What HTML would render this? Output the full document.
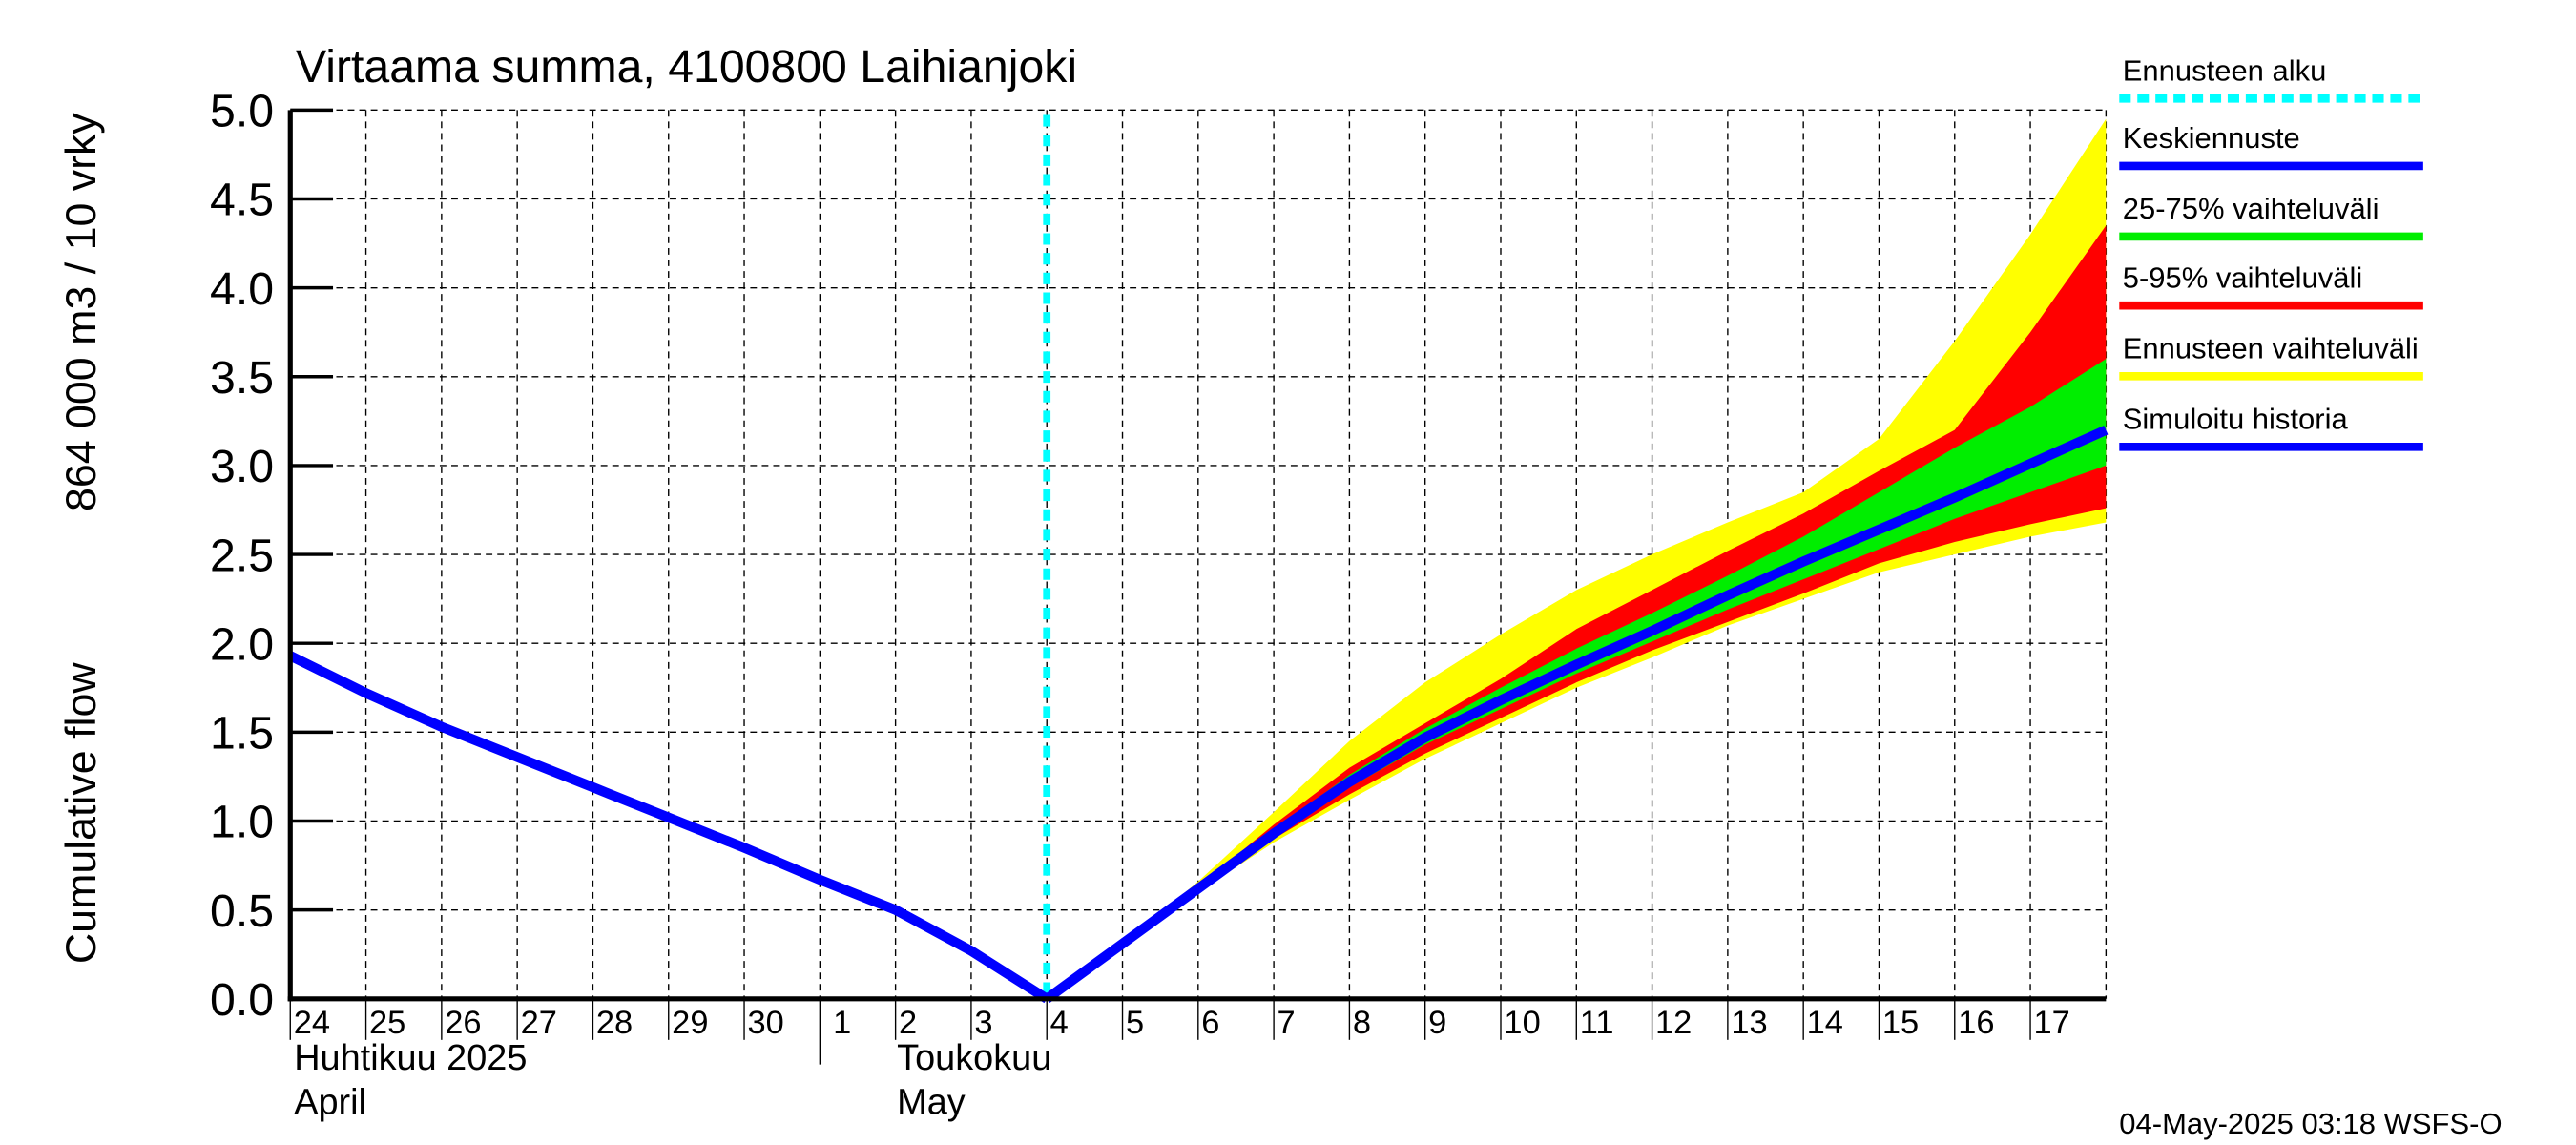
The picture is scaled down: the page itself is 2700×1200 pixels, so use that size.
<!DOCTYPE html>
<html><head><meta charset="utf-8"><style>
html,body{margin:0;padding:0;background:#fff;}
svg{display:block;font-family:"Liberation Sans",sans-serif;}
</style></head><body>
<svg id="chart" width="2700" height="1200" viewBox="0 0 1568 697" preserveAspectRatio="none" xmlns="http://www.w3.org/2000/svg">
<rect width="1568" height="697" fill="#fff"/>
<g id="grid"></g>
<g id="bands"></g>
<g id="lines"></g>
<g id="axes"></g>
<text x="180" y="50" font-size="28">Virtaama summa, 4100800 Laihianjoki</text>
<text transform="translate(58,495) rotate(-90)" text-anchor="middle" font-size="26">Cumulative flow</text>
<text transform="translate(58,190) rotate(-90)" text-anchor="middle" font-size="26">864 000 m3 / 10 vrky</text>
<text x="179" y="651" font-size="22">Huhtikuu  2025</text>
<text x="179" y="678" font-size="22">April</text>
<text x="546" y="651" font-size="22">Toukokuu</text>
<text x="546" y="678" font-size="22">May</text>
<text x="1290" y="690" font-size="18">04-May-2025 03:18 WSFS-O</text>
<g id="legend"></g>
</svg>
<script>
const dayLabels=["24","25","26","27","28","29","30","1","2","3","4","5","6","7","8","9","10","11","12","13","14","15","16","17"];
const yTicks=[0,0.5,1,1.5,2,2.5,3,3.5,4,4.5,5];
const yTickLabels=["0.0","0.5","1.0","1.5","2.0","2.5","3.0","3.5","4.0","4.5","5.0"];
const histDays=[0,1,2,3,4,5,6,7,8,9,10];
const histVals=[1.93,1.72,1.53,1.36,1.19,1.02,0.85,0.67,0.5,0.27,0.0];
const fcDays=[10,11,12,13,14,15,16,17,18,19,20,21,22,23,24];
const meanVals=[0,0.31,0.62,0.93,1.22,1.47,1.68,1.88,2.07,2.27,2.46,2.64,2.82,3.01,3.2];
const yellowTop=[0,0.31,0.66,1.05,1.45,1.78,2.05,2.3,2.5,2.68,2.85,3.15,3.7,4.3,4.95];
const yellowBot=[0,0.3,0.6,0.88,1.12,1.35,1.55,1.75,1.92,2.1,2.25,2.4,2.5,2.6,2.68];
const redTop=[0,0.31,0.63,0.98,1.3,1.55,1.8,2.08,2.3,2.52,2.73,2.97,3.2,3.75,4.35];
const redBot=[0,0.3,0.61,0.9,1.15,1.38,1.58,1.78,1.96,2.12,2.28,2.45,2.57,2.67,2.76];
const greenTop=[0,0.31,0.62,0.95,1.26,1.52,1.75,1.97,2.17,2.38,2.6,2.85,3.1,3.33,3.6];
const greenBot=[0,0.3,0.62,0.92,1.19,1.43,1.63,1.83,2.01,2.19,2.36,2.53,2.7,2.85,3.0];
const forecastStart=10;

const X0=176.7,X1=1281.9,NDAYS=24,Y0=608,YTOP=67,YMAX=5;
const xs=d=>X0+(X1-X0)*d/NDAYS;
const ys=v=>Y0-(Y0-YTOP)*v/YMAX;
const NS="http://www.w3.org/2000/svg";
function mk(tag,attrs,parent){const e=document.createElementNS(NS,tag);for(const k in attrs)e.setAttribute(k,attrs[k]);parent.appendChild(e);return e;}
const grid=document.getElementById('grid'),bands=document.getElementById('bands'),lines=document.getElementById('lines'),axes=document.getElementById('axes'),legend=document.getElementById('legend');

for(let d=1;d<=NDAYS;d++){
  const l=mk('line',{x1:xs(d),x2:xs(d),y1:YTOP,y2:Y0,stroke:'#000','stroke-width':0.8,'stroke-dasharray':'4,3'},grid);
  
  
}
yTicks.forEach(v=>{
  if(v===0)return;
  const l=mk('line',{x1:X0,x2:X1,y1:ys(v),y2:ys(v),stroke:'#000','stroke-width':0.8,'stroke-dasharray':'4,3'},grid);
  
  
});

function band(top,bot,color,name){
  let p=fcDays.map((d,i)=>xs(d)+','+ys(top[i])).join(' ');
  p+=' '+fcDays.slice().reverse().map((d,j)=>{const i=fcDays.length-1-j;return xs(d)+','+ys(bot[i]);}).join(' ');
  const e=mk('polygon',{points:p,fill:color},bands);
  
  
}
band(yellowTop,yellowBot,'#ffff00','band-forecast-range');
band(redTop,redBot,'#ff0000','band-5-95');
band(greenTop,greenBot,'#00ee00','band-25-75');

const fl=mk('line',{x1:xs(forecastStart),x2:xs(forecastStart),y1:YTOP+3,y2:Y0,stroke:'#00ffff','stroke-width':4.5,'stroke-dasharray':'7,5'},lines);



const h=mk('polyline',{points:histDays.map((d,i)=>xs(d)+','+ys(histVals[i])).join(' '),fill:'none',stroke:'#0000ff','stroke-width':6,'stroke-linejoin':'round'},lines);


const m=mk('polyline',{points:fcDays.map((d,i)=>xs(d)+','+ys(meanVals[i])).join(' '),fill:'none',stroke:'#0000ff','stroke-width':6,'stroke-linejoin':'round'},lines);



const ax1=mk('line',{x1:X0,x2:X0,y1:YTOP,y2:Y0+1.5,stroke:'#000','stroke-width':3},axes);


const ax2=mk('line',{x1:X0-1.5,x2:X1,y1:Y0,y2:Y0,stroke:'#000','stroke-width':3},axes);


yTicks.forEach((v,i)=>{
  const t=mk('line',{x1:X0,x2:X0+26,y1:ys(v),y2:ys(v),stroke:'#000','stroke-width':2},axes);
  
  
  const tx=mk('text',{x:X0-10,y:ys(v)+10,'text-anchor':'end','font-size':28},axes);
  tx.textContent=yTickLabels[i];
  
  
});
dayLabels.forEach((lab,d)=>{
  const isMonth=(lab==="1");
  const t=mk('line',{x1:xs(d),x2:xs(d),y1:Y0,y2:isMonth?648:633,stroke:'#000','stroke-width':0.8},axes);
  
  
  const tx=mk('text',{x:xs(d)+(isMonth?8:2),y:629,'font-size':20},axes);
  tx.textContent=lab;
  
  
});

const legItems=[
 ["Ennusteen alku","#00ffff",true,60],
 ["Keskiennuste","#0000ff",false,101],
 ["25-75% vaihteluväli","#00ee00",false,144],
 ["5-95% vaihteluväli","#ff0000",false,186],
 ["Ennusteen vaihteluväli","#ffff00",false,229],
 ["Simuloitu historia","#0000ff",false,272]
];
legItems.forEach(it=>{
  const tx=mk('text',{x:1292,y:it[3]-11,'font-size':18},legend);
  tx.textContent=it[0];
  
  
  const a={x1:1290,x2:1475,y1:it[3],y2:it[3],stroke:it[1],'stroke-width':5};
  if(it[2])a['stroke-dasharray']='7,4';
  const l=mk('line',a,legend);
  
  
});
</script>
</body></html>
